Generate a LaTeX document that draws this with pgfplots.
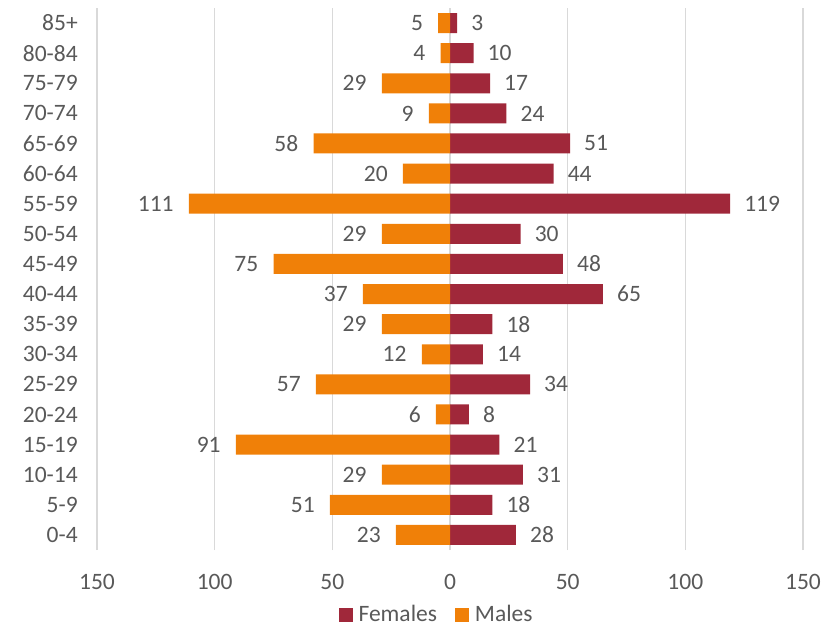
\documentclass[border=0pt]{standalone}
\usepackage{fontspec}
\setmainfont{Carlito}
\usepackage{pgfplots}
\pgfplotsset{compat=1.18}
\usepackage{pgfplotstable}
\definecolor{fem}{HTML}{A0283A}
\definecolor{mal}{HTML}{F08008}
\definecolor{txt}{HTML}{595959}
\definecolor{grd}{HTML}{D9D9D9}
\pgfplotstableread{
y m f
0 23 28
1 51 18
2 29 31
3 91 21
4 6 8
5 57 34
6 12 14
7 29 18
8 37 65
9 75 48
10 29 30
11 111 119
12 20 44
13 58 51
14 9 24
15 29 17
16 4 10
17 5 3
}\data
\newcommand\fs{\fontsize{23.5bp}{27bp}\selectfont}
\begin{document}
\fs
\begin{tikzpicture}
\useasboundingbox (0,0) rectangle (823bp,626bp);
\begin{axis}[
  at={(97bp,76bp)}, anchor=south west,
  scale only axis, width=706bp, height=542bp,
  xmin=-150, xmax=150, ymin=-0.5, ymax=17.5,
  xtick={-150,-100,...,150},
  xticklabels={150,100,50,0,50,100,150},
  ytick={0,...,17},
  yticklabels={0-4,5-9,10-14,15-19,20-24,25-29,30-34,35-39,40-44,45-49,50-54,55-59,60-64,65-69,70-74,75-79,80-84,85+},
  xmajorgrids, major grid style={grd, line width=1.2bp},
  axis line style={draw=none}, tick style={draw=none},
  ticklabel style={txt, font=\fs},
  xticklabel style={yshift=-16bp},
  yticklabel style={xshift=-7bp},
  /pgf/number format/assume math mode=true,
  xbar, bar width=20bp,
  legend columns=2,
  legend style={draw=none, fill=none, at={(0.481,-0.12)}, anchor=center,
    font=\fs, text=txt,
    /tikz/every even column/.append style={column sep=16bp}},
  legend image code/.code={\fill[#1] (0bp,-7bp) rectangle (14bp,7bp);},
]
\addplot[fill=fem, draw=none, bar shift=0pt,
  nodes near coords, point meta=explicit,
  every node near coord/.style={anchor=west, inner sep=0pt, xshift=14bp, text=txt, font=\fs}]
  table[x=f, y=y, meta=f] {\data};
\addlegendentry{\hspace{4bp}Females}
\addplot[fill=mal, draw=none, bar shift=0pt,
  nodes near coords, point meta=explicit,
  every node near coord/.style={anchor=east, inner sep=0pt, xshift=-15bp, text=txt, font=\fs}]
  table[x expr=-\thisrow{m}, y=y, meta=m] {\data};
\addlegendentry{\hspace{4bp}Males}
\end{axis}
\end{tikzpicture}
\end{document}
